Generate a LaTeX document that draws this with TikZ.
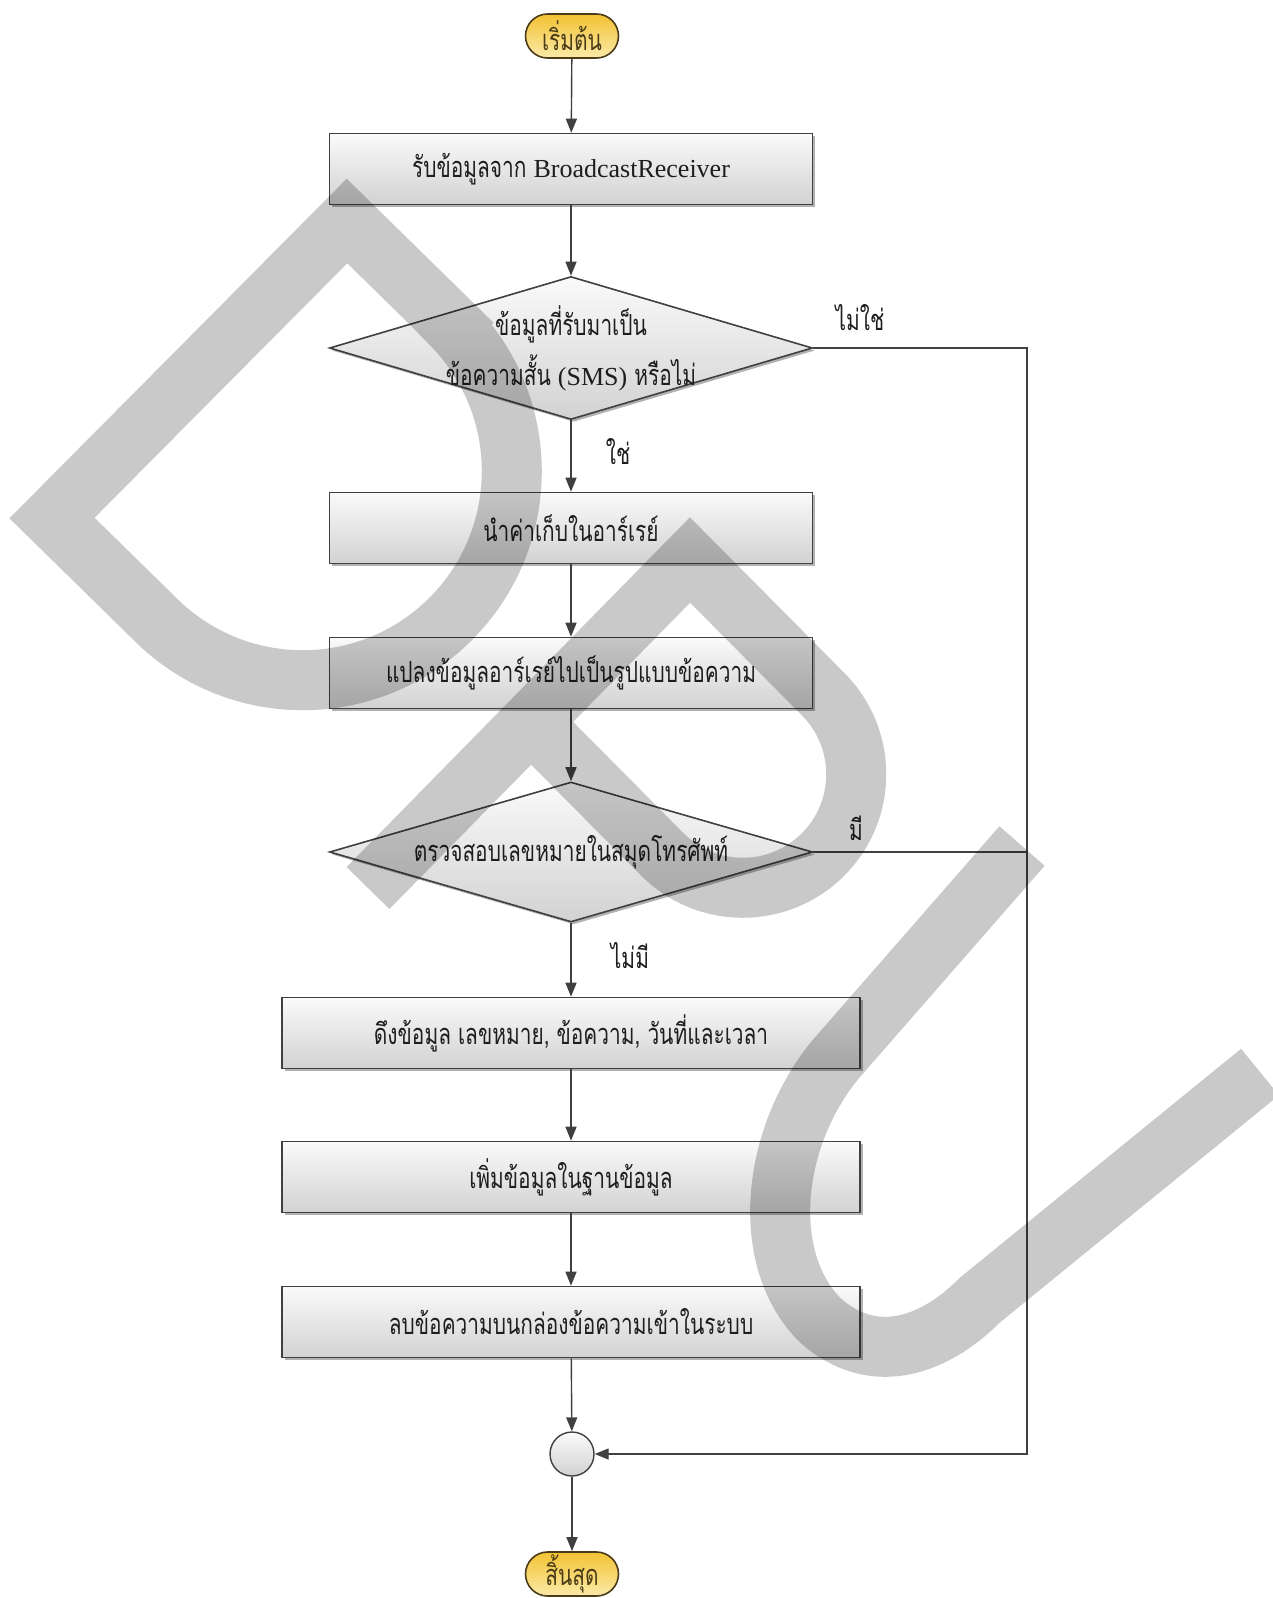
\documentclass[tikz,border=0pt]{standalone}
\usepackage{fontspec}
\setmainfont{Liberation Serif}
\newfontfamily\thai[Script=Thai,FakeStretch=0.72]{Loma}
\usetikzlibrary{shapes.geometric,arrows.meta,shadows}

\definecolor{edgegray}{HTML}{404040}
\definecolor{boxtop}{HTML}{FAFAFA}
\definecolor{boxbot}{HTML}{D2D2D2}
\definecolor{termtop}{HTML}{F2C232}
\definecolor{termbot}{HTML}{FCEAA8}
\definecolor{termedge}{HTML}{4A3C18}
\definecolor{inkgray}{HTML}{1E1E1E}

\begin{document}
\begin{tikzpicture}[x=1pt,y=-1pt,
  every node/.style={font=\fontsize{29}{32}\selectfont, text=inkgray},
  boxshadow/.style={drop shadow={shadow xshift=2.5pt,shadow yshift=-2.5pt,fill=black,opacity=.3}},
  stepbox/.style={rectangle, draw=edgegray, line width=1.6pt, top color=boxtop, bottom color=boxbot,
    minimum height=71pt, inner sep=0pt, boxshadow},
  decision/.style={diamond, draw=edgegray, line width=1.6pt, top color=boxtop, bottom color=boxbot,
    minimum width=483pt, inner sep=0pt, boxshadow},
  terminal/.style={rectangle, rounded corners=22pt, draw=termedge, line width=1.6pt,
    top color=termtop, bottom color=termbot, minimum width=93pt, minimum height=44pt, inner sep=0pt,
    text=termedge},
  joiner/.style={circle, draw=edgegray, line width=1.4pt, top color=boxtop, bottom color=boxbot,
    minimum size=44pt, inner sep=0pt},
  flow/.style={draw=edgegray, line width=1.4pt, -{Triangle[length=14pt,width=11pt]}},
  plainline/.style={draw=edgegray, line width=1.4pt},
  branch/.style={font=\fontsize{29}{32}\selectfont\thai, text=inkgray},
  wmstroke/.style={draw=black, opacity=0.21, line width=60pt, line join=miter, miter limit=10}
]
\useasboundingbox (0,0) rectangle (1272,1598);

% ---- flowchart nodes ----
\node[terminal] (start) at (572,36) {\thai เริ่มต้น};
\node[stepbox, minimum width=483pt] (recv) at (571,169) {\thai รับข้อมูลจาก \rmfamily\fontsize{26}{30}\selectfont BroadcastReceiver};
\node[decision, minimum height=143pt] (isSms) at (571,348) {};
\node[align=center, font=\fontsize{29}{50}\selectfont] at (isSms) {\thai ข้อมูลที่รับมาเป็น\\ \thai ข้อความสั้น {\rmfamily\fontsize{26}{50}\selectfont(SMS)} \thai หรือไม่};
\node[stepbox, minimum width=483pt] (store) at (571,528) {\thai นำค่าเก็บในอาร์เรย์};
\node[stepbox, minimum width=483pt] (convert) at (571,673) {\thai แปลงข้อมูลอาร์เรย์ไปเป็นรูปแบบข้อความ};
\node[decision, minimum height=140pt] (lookup) at (571,852) {};
\node at (lookup) {\thai ตรวจสอบเลขหมายในสมุดโทรศัพท์};
\node[stepbox, minimum width=578pt] (fetch) at (571,1033) {\thai ดึงข้อมูล เลขหมาย, ข้อความ, วันที่และเวลา};
\node[stepbox, minimum width=578pt] (insert) at (571,1177) {\thai เพิ่มข้อมูลในฐานข้อมูล};
\node[stepbox, minimum width=578pt] (remove) at (571,1322) {\thai ลบข้อความบนกล่องข้อความเข้าในระบบ};
\node[joiner] (merge) at (572,1454) {};
\node[terminal] (stop) at (572,1574) {\thai สิ้นสุด};

\coordinate (rightA) at (1027,348);
\coordinate (rightB) at (1027,852);

% ---- connectors ----
\draw[flow] (start) -- (recv);
\draw[flow] (recv) -- (isSms);
\draw[flow] (isSms) -- (store);
\draw[flow] (store) -- (convert);
\draw[flow] (convert) -- (lookup);
\draw[flow] (lookup) -- (fetch);
\draw[flow] (fetch) -- (insert);
\draw[flow] (insert) -- (remove);
\draw[flow] (remove) -- (merge);
\draw[flow] (merge) -- (stop);
\draw[flow] (isSms.east) -- (rightA) |- (merge.east);
\draw[plainline] (lookup.east) -- (rightB);

% ---- branch labels ----
\node[branch] at (860,318) {ไม่ใช่};
\node[branch] at (618,452) {ใช่};
\node[branch] at (856,828) {มี};
\node[branch] at (630,956) {ไม่มี};

% ---- watermark letters ----
% D
\draw[wmstroke] (451,323) -- (347,221) -- (52,518) -- (155,619)
  arc[start angle=135, end angle=-45, radius=209] -- cycle;
% P
\draw[wmstroke] (368,888) -- (690,560) -- (823,694)
  arc[start angle=-45, end angle=135, radius=113.5] -- (533,724);
% U
\draw[wmstroke] (1022,846) -- (835,1060)
  .. controls (770,1140) and (760,1260) .. (820,1320)
  .. controls (870,1365) and (930,1350) .. (980,1300) -- (1260,1072);
\end{tikzpicture}
\end{document}
